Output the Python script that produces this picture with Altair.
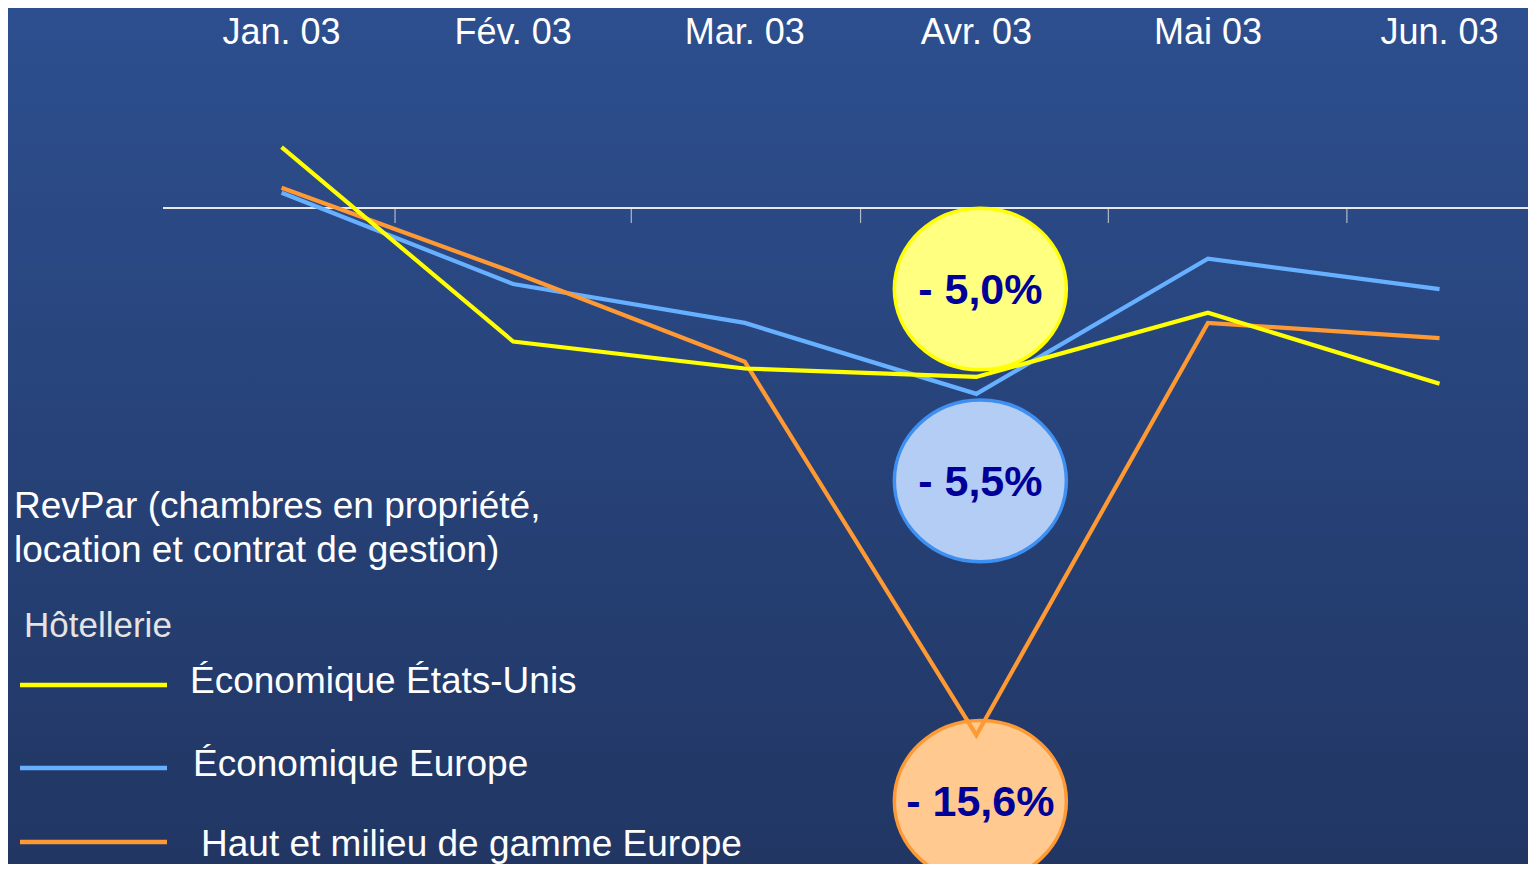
import altair as alt
import pandas as pd

# ---------------- data ----------------
months = ["Jan. 03", "Fév. 03", "Mar. 03", "Avr. 03", "Mai 03", "Jun. 03"]
series_names = ["Économique États-Unis", "Économique Europe", "Haut et milieu de gamme Europe"]
eco_us = [1.8, -3.95, -4.75, -5.0, -3.1, -5.2]
eco_eu = [0.45, -2.25, -3.4, -5.5, -1.5, -2.4]
haut_eu = [0.6, -1.9, -4.55, -15.6, -3.4, -3.85]
tick_pos = [0.49, 1.51, 2.5, 3.57, 4.6]
title_lines = ["RevPar (chambres en propriété,", "location et contrat de gestion)"]
legend_title = "Hôtellerie"
highlight_month = "Avr. 03"

# ---------------- style ----------------
FONT = "Liberation Sans"
line_colors = ["#ffff00", "#66b0ff", "#ff9933"]
bubble_fill = ["#ffff80", "#b3cdf5", "#ffc990"]
bubble_stroke = ["#ffff00", "#3d8ff2", "#ff9933"]
bubble_offset = [-88, 87, 66]
draw_order = [1, 2, 0]
W, H, PAD_L = 1365, 856, 155
ELLIPSE = "M-1,0A1,0.94 0 1,0 1,0A1,0.94 0 1,0 -1,0Z"

rows = []
for s, vals in zip(series_names, [eco_us, eco_eu, haut_eu]):
    for i, (m, v) in enumerate(zip(months, vals)):
        rows.append({"series": s, "month": m, "idx": i, "value": v})
df = pd.DataFrame(rows)

hi = months.index(highlight_month)
bub = pd.DataFrame({
    "series": series_names,
    "idx": [hi] * 3,
    "value": [eco_us[hi], eco_eu[hi], haut_eu[hi]],
})
bub["label"] = bub["value"].map(lambda v: "- " + f"{abs(v):.1f}".replace(".", ",") + "%")

xs = alt.Scale(domain=[-0.512, 5.382], nice=False, zero=False)
ys = alt.Scale(domain=[-19.41, 5.917], nice=False, zero=False)
X = lambda f: alt.X(f, type="quantitative", scale=xs, axis=None)
Y = lambda f: alt.Y(f, type="quantitative", scale=ys, axis=None)

bg = alt.Chart(pd.DataFrame({"a": [0]})).mark_rect(
    color={"gradient": "linear", "x1": 0, "y1": 0, "x2": 0, "y2": 1,
           "stops": [{"offset": 0, "color": "#2d4f8f"},
                     {"offset": 1, "color": "#213663"}]}
).encode(x=alt.value(-PAD_L), x2=alt.value(W), y=alt.value(0), y2=alt.value(H))

month_df = pd.DataFrame({"idx": list(range(len(months))), "month": months})
month_text = alt.Chart(month_df).mark_text(
    font=FONT, fontSize=36, color="white", baseline="alphabetic", align="center"
).encode(x=X("idx"), y=alt.value(36), text="month:N")

zero = alt.Chart(pd.DataFrame({"z": [0]})).mark_rule(color="#e8e8e8", strokeWidth=2).encode(y=Y("z"))
ticks = alt.Chart(pd.DataFrame({"t": tick_pos, "z": [0] * len(tick_pos)})).mark_tick(
    orient="vertical", size=15, thickness=1.2, color="#e8e8e8", yOffset=7.5
).encode(x=X("t"), y=Y("z"))

bubbles = []
for k in range(3):
    d = bub.iloc[[k]]
    bubbles.append(alt.Chart(d).mark_point(
        shape=ELLIPSE, size=172 * 172, filled=True, fill=bubble_fill[k], fillOpacity=1,
        stroke=bubble_stroke[k], strokeWidth=3.5, yOffset=bubble_offset[k], xOffset=4
    ).encode(x=X("idx"), y=Y("value")))
    bubbles.append(alt.Chart(d).mark_text(
        font=FONT, fontSize=43, fontWeight="bold", color="#000099",
        baseline="middle", align="center", yOffset=bubble_offset[k] + 2, xOffset=4
    ).encode(x=X("idx"), y=Y("value"), text="label:N"))

lines = alt.Chart(df).mark_line(strokeWidth=4.2, strokeJoin="miter").encode(
    x=X("idx"), y=Y("value"),
    color=alt.Color("series:N", scale=alt.Scale(domain=series_names, range=line_colors), legend=None),
    order="idx:Q",
    detail="series:N",
)
line_layers = [lines.transform_filter(alt.datum.series == series_names[k]) for k in draw_order]

texts = []
for j, t in enumerate(title_lines):
    texts.append(alt.Chart(pd.DataFrame({"t": [t]})).mark_text(
        font=FONT, fontSize=37, color="white", align="left", baseline="alphabetic"
    ).encode(x=alt.value(-149), y=alt.value(510 + 44 * j), text="t:N"))
texts.append(alt.Chart(pd.DataFrame({"t": [legend_title]})).mark_text(
    font=FONT, fontSize=35, color="#e4e4e4", align="left", baseline="alphabetic"
).encode(x=alt.value(-139), y=alt.value(629), text="t:N"))

leg_y = [677, 760, 834]
leg_tx = [27, 30, 38]
leg_ty = [685, 768, 848]
for k, s in enumerate(series_names):
    texts.append(alt.Chart(pd.DataFrame({"s": [s]})).mark_rule(
        color=line_colors[k], strokeWidth=4.5
    ).encode(x=alt.value(-143), x2=alt.value(4), y=alt.value(leg_y[k])))
    texts.append(alt.Chart(pd.DataFrame({"s": [s]})).mark_text(
        font=FONT, fontSize=37, color="white", align="left", baseline="alphabetic"
    ).encode(x=alt.value(leg_tx[k]), y=alt.value(leg_ty[k]), text="s:N"))

chart = alt.layer(bg, month_text, zero, ticks, *bubbles, *line_layers, *texts).properties(
    width=W, height=H,
    padding={"left": PAD_L, "top": 0, "right": 0, "bottom": 0},
    autosize=alt.AutoSizeParams(type="none"),
    background="#2b4a88",
).configure_view(stroke=None, clip=False)

chart.save("out.html", embed_options={"renderer": "svg", "actions": False})
